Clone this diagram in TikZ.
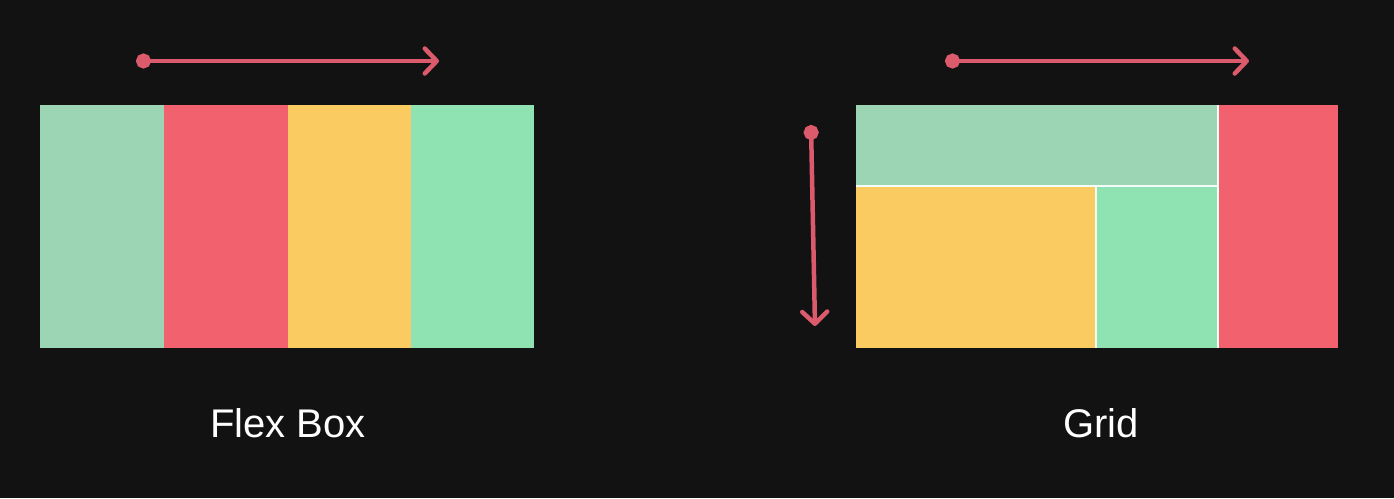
\documentclass[tikz,border=0pt]{standalone}
\usepackage{fontspec}
\setmainfont{Liberation Sans}
\usepackage{xcolor}
\usetikzlibrary{arrows.meta,positioning}

\definecolor{bgdark}{HTML}{121212}
\definecolor{sage}{HTML}{9BD5B4}
\definecolor{coral}{HTML}{F2616E}
\definecolor{mustard}{HTML}{F9CB61}
\definecolor{mint}{HTML}{8FE2B1}
\definecolor{flowred}{HTML}{DB5A6B}

\begin{document}
\begin{tikzpicture}[x=1pt, y=-1pt,
  cell/.style={inner sep=0pt, outer sep=0pt, minimum height=243pt},
  flow/.style={{Circle[length=15pt]}-{Straight Barb[length=12pt, width=25pt, round]},
               draw=flowred, line width=4.5pt},
  sep/.style={draw=white!90!mint, line width=1.6pt},
  lbl/.style={text=white, font=\fontsize{40}{48}\selectfont}
]
  \useasboundingbox[fill=bgdark] (0,0) rectangle (1394,498);

  % flex box: one row of items
  \node[cell, anchor=north west, fill=sage, minimum width=124pt] (f1) at (40,105) {};
  \node[cell, fill=coral, minimum width=124pt, right=0pt of f1] (f2) {};
  \node[cell, fill=mustard, minimum width=123pt, right=0pt of f2] (f3) {};
  \node[cell, fill=mint, minimum width=123pt, right=0pt of f3] (f4) {};

  \coordinate (fs) at (136,61);
  \coordinate (fe) at (439,61);
  \draw[flow] (fs) -- (fe);

  \node[lbl] (flexlbl) at (288,423) {Flex Box};

  % grid: rows and columns
  \node[cell, anchor=north west, fill=sage, minimum width=362pt, minimum height=81pt] (gtop) at (856,105) {};
  \node[cell, anchor=north west, fill=mustard, minimum width=240pt, minimum height=162pt] (gyel) at (856,186) {};
  \node[cell, fill=mint, minimum width=122pt, minimum height=162pt, right=0pt of gyel] (gmint) {};
  \node[cell, anchor=north west, fill=coral, minimum width=120pt] (gred) at (1218,105) {};

  \draw[sep] (gtop.south west) -- (gtop.south east);
  \draw[sep] (gyel.north east) -- (gyel.south east);
  \draw[sep] (gred.north west) -- (gred.south west);

  \coordinate (gs) at (945,61);
  \coordinate (ge) at (1249,61);
  \draw[flow] (gs) -- (ge);

  \coordinate (vs) at (811,125);
  \coordinate (ve) at (815,326);
  \draw[flow] (vs) -- (ve);

  \node[lbl] (gridlbl) at (1101,423) {Grid};
\end{tikzpicture}
\end{document}
